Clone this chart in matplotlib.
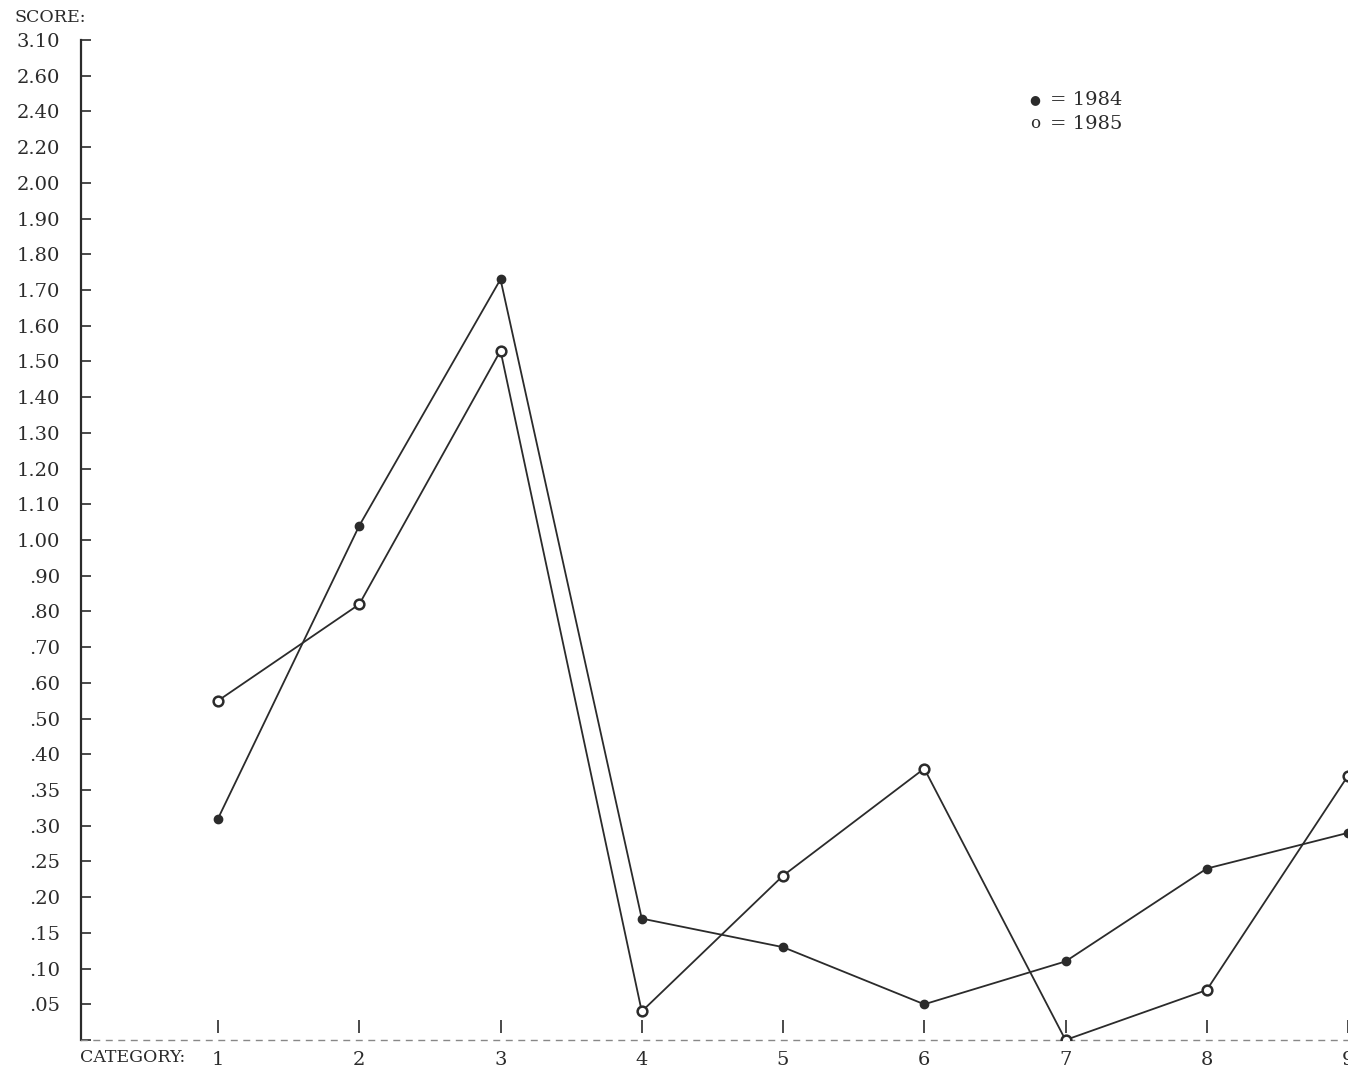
import numpy as np
import matplotlib
matplotlib.use("Agg")
import matplotlib.pyplot as plt

# score axis is printed with uneven steps, each label one notch apart
tick_values = [0.00, 0.05, 0.10, 0.15, 0.20, 0.25, 0.30, 0.35, 0.40, 0.50, 0.60, 0.70,
               0.80, 0.90, 1.00, 1.10, 1.20, 1.30, 1.40, 1.50, 1.60, 1.70, 1.80, 1.90,
               2.00, 2.20, 2.40, 2.60, 3.10]
tick_labels = ["", ".05", ".10", ".15", ".20", ".25", ".30", ".35", ".40", ".50", ".60",
               ".70", ".80", ".90", "1.00", "1.10", "1.20", "1.30", "1.40", "1.50", "1.60",
               "1.70", "1.80", "1.90", "2.00", "2.20", "2.40", "2.60", "3.10"]
categories = [1, 2, 3, 4, 5, 6, 7, 8, 9]
score_1984 = [0.31, 1.04, 1.73, 0.17, 0.13, 0.05, 0.11, 0.24, 0.29]
score_1985 = [0.55, 0.82, 1.53, 0.04, 0.23, 0.38, 0.00, 0.07, 0.37]

notch = np.arange(len(tick_values), dtype=float)
def fwd(v): return np.interp(v, tick_values, notch)
def inv(p): return np.interp(p, notch, tick_values)

INK = "#2b2b2b"
plt.rcParams["font.family"] = "DejaVu Serif"

fig = plt.figure(figsize=(13.48, 10.73), dpi=100)
ax = fig.add_axes([81 / 1348, 33 / 1073, 1 - 81 / 1348, 1000 / 1073])
ax.set_yscale("function", functions=(fwd, inv))
ax.set_ylim(0, 3.10)
ax.set_xlim(0.03, 9.0)

ax.plot(categories, score_1984, color=INK, lw=1.3, marker="o", ms=6,
        mfc=INK, mec=INK, zorder=3)
ax.plot(categories, score_1985, color=INK, lw=1.3, marker="o", ms=7,
        mfc="white", mec=INK, mew=1.8, zorder=3)

# little category markers standing above the baseline
ax.vlines(categories, 0.010, 0.028, color=INK, lw=1.2)

for s in ["top", "right"]:
    ax.spines[s].set_visible(False)
ax.spines["left"].set_color(INK)
ax.spines["left"].set_linewidth(1.6)
ax.spines["bottom"].set_color("#888888")
ax.spines["bottom"].set_linewidth(1.0)
ax.spines["bottom"].set_linestyle((0, (4, 5)))

ax.set_yticks(tick_values)
ax.set_yticklabels(tick_labels)
ax.yaxis.set_minor_locator(matplotlib.ticker.NullLocator())
ax.tick_params(axis="y", direction="in", length=7, width=1.2, color=INK,
               pad=15, labelsize=14, labelcolor=INK)
ax.set_xticks(categories)
ax.set_xticklabels([str(c) for c in categories])
ax.tick_params(axis="x", length=0, pad=8, labelsize=14, labelcolor=INK)

fig.text(15 / 1348, 1 - 18 / 1073, "SCORE:", fontsize=12.5, color=INK, va="center", ha="left")
fig.text(80 / 1348, 1 - 1058 / 1073, "CATEGORY:", fontsize=12.5, color=INK, va="center", ha="left")

# key in the upper right
fig.text(1035 / 1348, 1 - 100 / 1073, "\u25cf", fontsize=9, color=INK, va="center", ha="center")
fig.text(1035 / 1348, 1 - 124 / 1073, "o", fontsize=12, color=INK, va="center", ha="center")
fig.text(1050 / 1348, 1 - 100 / 1073, "= 1984", fontsize=14, color=INK, va="center", ha="left")
fig.text(1050 / 1348, 1 - 124 / 1073, "= 1985", fontsize=14, color=INK, va="center", ha="left")

fig.savefig("out.png", dpi=100, facecolor="white")
